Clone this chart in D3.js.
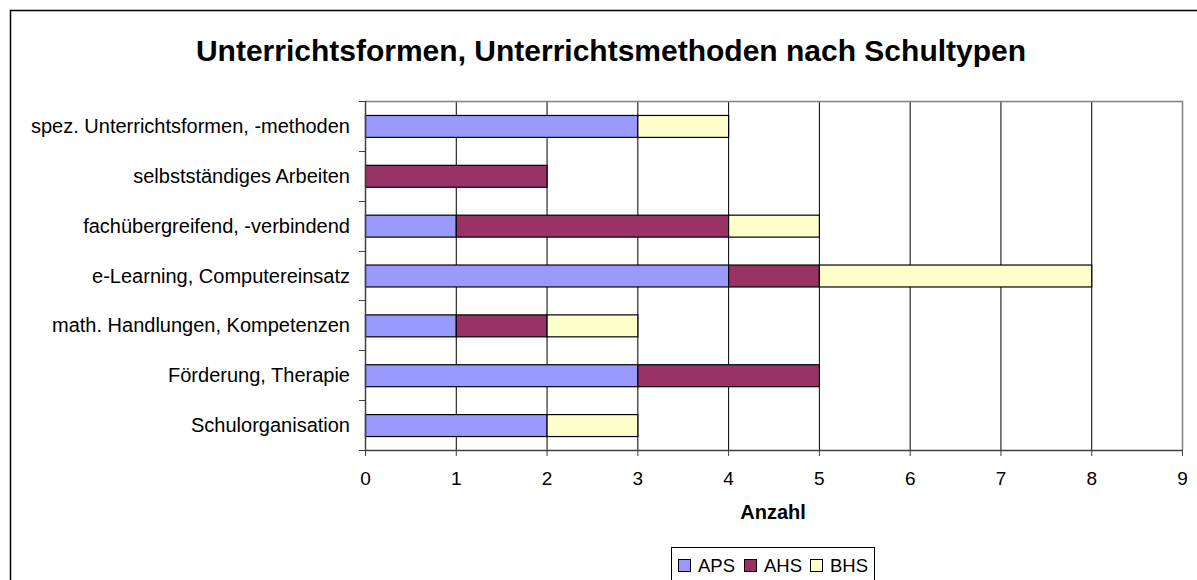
<!DOCTYPE html>
<meta charset="UTF-8">
<script src="https://d3js.org/d3.v7.min.js"></script>
<style>
body { margin: 0; background: #fff; }
text { font-family: "Liberation Sans", Arial, sans-serif; }
</style>
<div id="my_dataviz"></div>
<script>

// data
var categories = ["spez. Unterrichtsformen, -methoden", "selbstständiges Arbeiten", "fachübergreifend, -verbindend",
  "e-Learning, Computereinsatz", "math. Handlungen, Kompetenzen", "Förderung, Therapie", "Schulorganisation"]
var seriesNames = ["APS", "AHS", "BHS"]
var aps = [3, 0, 1, 4, 1, 3, 2]
var ahs = [0, 2, 3, 1, 1, 2, 0]
var bhs = [1, 0, 1, 3, 1, 0, 1]
var xTicks = [0, 1, 2, 3, 4, 5, 6, 7, 8, 9]
var colors = ["#9999ff", "#993366", "#ffffcc"]

var width = 1197
var height = 580
var margin = {left: 365, right: 15, top: 101, bottom: 130}

var svg = d3.select('#my_dataviz')
    .append("svg")
        .attr("width", width)
        .attr("height", height)

// outer chart border
svg.append("rect")
    .attr("x", 10.5).attr("y", 10.5)
    .attr("width", width + 20).attr("height", height + 20)
    .attr("fill", "white").attr("stroke", "black").attr("stroke-width", 1.5)

svg.append("text")
    .attr("x", 611).attr("y", 61)
    .attr("text-anchor", "middle")
    .style("font-size", "30px").style("font-weight", "bold")
    .text("Unterrichtsformen, Unterrichtsmethoden nach Schultypen")

var x = d3.scaleLinear().domain([0, 9]).range([margin.left, width - margin.right])
var y = d3.scaleBand().domain(categories).range([margin.top, 450]).paddingInner(0.56).paddingOuter(0.28)

// gridlines
svg.append("g")
    .selectAll("line")
    .data(xTicks.slice(1, -1))
    .enter()
    .append("line")
        .attr("x1", function(d){ return x(d) + 0.5 })
        .attr("x2", function(d){ return x(d) + 0.5 })
        .attr("y1", margin.top).attr("y2", 450)
        .attr("stroke", "black")

// plot border (top + right)
svg.append("path")
    .attr("d", "M" + (margin.left) + "," + (margin.top + 0.5) + "H" + (x(9) + 0.5) + "V450")
    .attr("fill", "none").attr("stroke", "#808080").attr("stroke-width", 1.5)

// stacked series
var table = categories.map(function(c, i){ return {cat: c, APS: aps[i], AHS: ahs[i], BHS: bhs[i]} })
var stacked = d3.stack().keys(seriesNames)(table)

svg.append("g")
    .selectAll("g")
    .data(stacked)
    .enter()
    .append("g")
        .attr("fill", function(d, i){ return colors[i] })
    .selectAll("rect")
    .data(function(d){ return d.filter(function(p){ return p[1] > p[0] }) })
    .enter()
    .append("rect")
        .attr("x", function(d){ return x(d[0]) + 0.5 })
        .attr("y", function(d){ return y(d.data.cat) + 0.5 })
        .attr("width", function(d){ return x(d[1]) - x(d[0]) })
        .attr("height", y.bandwidth())
        .attr("stroke", "black").attr("stroke-width", 1.2)

// x axis
var xAxis = svg.append("g")
    .attr("transform", "translate(0,450)")
    .call(d3.axisBottom(x).tickValues(xTicks).tickSize(6).tickSizeOuter(0).tickPadding(16))
xAxis.select(".domain").attr("stroke", "#404040").attr("stroke-width", 1.5)
xAxis.selectAll(".tick line").attr("stroke", "#404040")
xAxis.selectAll("text").style("font-size", "19px").attr("fill", "black")

// y axis: ticks at band boundaries
var yAxisG = svg.append("g")
svg.append("line")
    .attr("x1", margin.left + 0.5).attr("x2", margin.left + 0.5)
    .attr("y1", margin.top).attr("y2", 450)
    .attr("stroke", "#404040").attr("stroke-width", 1.5)
yAxisG.selectAll("line")
    .data(d3.range(categories.length + 1))
    .enter()
    .append("line")
        .attr("x1", margin.left - 6).attr("x2", margin.left)
        .attr("y1", function(i){ return Math.round(margin.top + i * (450 - margin.top) / categories.length) + 0.5 })
        .attr("y2", function(i){ return Math.round(margin.top + i * (450 - margin.top) / categories.length) + 0.5 })
        .attr("stroke", "#404040")
yAxisG.selectAll("text")
    .data(categories)
    .enter()
    .append("text")
        .attr("x", 350)
        .attr("y", function(d){ return y(d) + y.bandwidth() / 2 })
        .attr("dy", "0.35em")
        .attr("text-anchor", "end")
        .style("font-size", "20px")
        .text(function(d){ return d })

svg.append("text")
    .attr("x", 773).attr("y", 519)
    .attr("text-anchor", "middle")
    .style("font-size", "20px").style("font-weight", "bold")
    .text("Anzahl")

// legend
var legend = svg.append("g")
legend.append("rect")
    .attr("x", 671.5).attr("y", 547.5).attr("width", 203).attr("height", 50)
    .attr("fill", "white").attr("stroke", "black")
var legendX = [678, 744, 810]
seriesNames.forEach(function(s, i){
    legend.append("rect")
        .attr("x", legendX[i] + 0.5).attr("y", 559.5).attr("width", 12).attr("height", 12)
        .attr("fill", colors[i]).attr("stroke", "black")
    legend.append("text")
        .attr("x", legendX[i] + 20).attr("y", 572)
        .style("font-size", "18.5px")
        .text(s)
})

</script>
